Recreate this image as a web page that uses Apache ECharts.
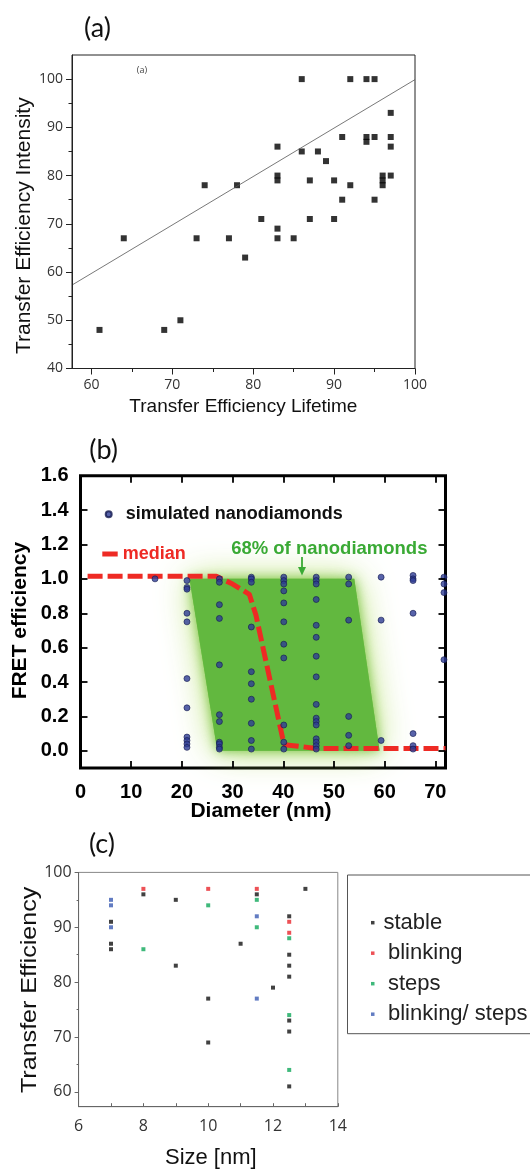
<!DOCTYPE html>
<html><head><meta charset="utf-8">
<script src="https://cdn.jsdelivr.net/npm/echarts@6/dist/echarts.min.js"></script>
<style>html,body{margin:0;padding:0;background:#fff}#c{width:530px;height:1169px}</style>
</head><body><div id="c"></div>
<script>
// ---------- panel (a) ----------
const aLifetime  = [61,64,69,71,73,74,77,78,79,81,83,83,83,83,83,85,86,86,87,87,88,89,90,90,91,91,92,92,94,94,94,95,95,95,96,96,96,97,97,97,97];
const aIntensity = [48,67,48,50,67,78,67,78,63,71,86,80,79,69,67,67,100,85,79,71,85,83,79,71,88,75,100,78,100,88,87,100,88,75,80,79,78,93,88,86,80];
const aFitX = [57.6, 100];
const aFitY = [57.3, 99.9];
const aXTicks = [60,70,80,90,100];
const aXMinor = [65,75,85,95];
const aYTicks = [40,50,60,70,80,90,100];
const aYMinor = [45,55,65,75,85,95];

// ---------- panel (b) ----------
const bDiameters = [14.7,21,27.4,33.7,40.1,46.5,52.9,59.3,65.6,71.7];
const bEfficiencies = [
  [1.0],
  [0.99,0.95,0.94,0.80,0.75,0.42,0.25,0.08,0.06,0.04,0.02],
  [1.0,0.98,0.85,0.77,0.50,0.21,0.17,0.05,0.04,0.02,0.01],
  [1.01,1.0,0.98,0.72,0.46,0.39,0.30,0.16,0.06,0.01],
  [1.01,0.99,0.97,0.93,0.86,0.75,0.62,0.54,0.15,0.05,0.01],
  [1.01,0.99,0.97,0.88,0.73,0.66,0.55,0.43,0.27,0.19,0.17,0.15,0.07,0.05,0.03,0.01],
  [1.01,0.97,0.76,0.20,0.09,0.03],
  [1.01,0.76,0.06],
  [1.02,1.0,0.99,0.80,0.10,0.03,0.01],
  [1.01,0.97,0.92,0.53]
];
const bMedianX = [1.4,26.8,30,33.3,34.6,39.9,40.3,42,46.5,72];
const bMedianY = [1.015,1.015,0.97,0.91,0.79,0.07,0.035,0.03,0.014,0.014];
const bBandX = [21.5,54,59,27];
const bBandY = [1.0,1.0,0.0,0.0];
const bXTicks = [0,10,20,30,40,50,60,70];
const bYTicks = [0,0.2,0.4,0.6,0.8,1.0,1.2,1.4,1.6];

// ---------- panel (c) ----------
const cStableX   = [7,7,7,8,9,9,10,10,11,11.5,12,12.5,12.5,12.5,12.5,12.5,12.5,12.5,13];
const cStableY   = [91,87,86,96,95,83,77,69,87,96,79,92,85,83,81,73,71,61,97];
const cBlinkX    = [8,10,11.5,12.5,12.5];
const cBlinkY    = [97,97,97,91,89];
const cStepsX    = [8,10,11.5,11.5,12.5,12.5,12.5];
const cStepsY    = [86,94,95,90,88,74,64];
const cBothX     = [7,7,7,11.5,11.5];
const cBothY     = [95,94,90,92,77];
const cXTicks = [6,8,10,12,14];
const cXMinor = [6,7,8,9,10,11,12,13,14];
const cYTicks = [60,70,80,90,100];
const cYMinor = [65,75,85,95];

const zip = (xs, ys) => xs.map((x, i) => [x, ys[i]]);
const bPoints = [];
bDiameters.forEach((d, i) => bEfficiencies[i].forEach(v => bPoints.push([d, v])));

const tickFontA = {fontFamily: 'Open Sans', fontSize: 14, color: '#333'};
const tickFontB = {fontFamily: 'Liberation Sans', fontSize: 20, fontWeight: 'bold', color: '#000'};
const tickFontC = {fontFamily: 'Open Sans', fontSize: 16, color: '#333'};

// axis helper: one axis per tick set, ticks placed by the library's own scale
const ax = (o) => Object.assign({type: 'value', z: 20, splitLine: {show: false}}, o);
const tk = (vals, len, color, width, inside) =>
  ({show: true, customValues: vals, inside: !!inside, length: len, lineStyle: {color: color, width: width}});
const noLine = () => ({show: false, onZero: false});

const chart = echarts.init(document.getElementById('c'));
chart.setOption({
  animation: false,
  grid: [
    {left: 72, top: 55, width: 343, height: 313.5, show: true, borderColor: '#222', borderWidth: 1},
    {left: 80.5, top: 475.7, width: 365, height: 292.3, show: true, borderColor: '#000', borderWidth: 3},
    {left: 78.6, top: 872.4, width: 259.2, height: 234.3, show: true, borderColor: '#888', borderWidth: 1}
  ],
  xAxis: [
    // (a) 0,1
    ax({gridIndex: 0, position: 'bottom', min: 57.6, max: 100,
        axisLine: {onZero: false, lineStyle: {color: '#222', width: 1}},
        axisTick: tk(aXTicks, 6, '#222', 1),
        axisLabel: {customValues: aXTicks, margin: 10, ...tickFontA}}),
    ax({gridIndex: 0, position: 'bottom', min: 57.6, max: 100,
        axisLine: noLine(), axisLabel: {show: false},
        axisTick: tk(aXMinor, 3.5, '#222', 1)}),
    // (b) 2,3
    ax({gridIndex: 1, position: 'bottom', min: 0, max: 72,
        axisLine: noLine(),
        axisTick: tk(bXTicks, 7, '#000', 1.8, true),
        axisLabel: {customValues: bXTicks, margin: 14, ...tickFontB}}),
    ax({gridIndex: 1, position: 'top', min: 0, max: 72,
        axisLine: noLine(), axisLabel: {show: false},
        axisTick: tk(bXTicks, 7, '#000', 1.8, true)}),
    // (c) 4
    ax({gridIndex: 2, position: 'bottom', min: 6, max: 14,
        axisLine: {onZero: false, lineStyle: {color: '#666', width: 1}},
        axisTick: tk(cXMinor, 3.5, '#666', 1, true),
        axisLabel: {customValues: cXTicks, margin: 12, ...tickFontC}})
  ],
  yAxis: [
    // (a) 0,1
    ax({gridIndex: 0, position: 'left', min: 40, max: 105,
        axisLine: {onZero: false, lineStyle: {color: '#222', width: 1}},
        axisTick: tk(aYTicks, 6, '#222', 1),
        axisLabel: {customValues: aYTicks, margin: 9, ...tickFontA}}),
    ax({gridIndex: 0, position: 'left', min: 40, max: 105,
        axisLine: noLine(), axisLabel: {show: false},
        axisTick: tk(aYMinor, 3.5, '#222', 1)}),
    // (b) 2,3
    ax({gridIndex: 1, position: 'left', min: -0.1, max: 1.6,
        axisLine: noLine(),
        axisTick: tk(bYTicks, 7, '#000', 1.8, true),
        axisLabel: {customValues: bYTicks, margin: 12, formatter: v => v.toFixed(1), ...tickFontB}}),
    ax({gridIndex: 1, position: 'right', min: -0.1, max: 1.6,
        axisLine: noLine(), axisLabel: {show: false},
        axisTick: tk(bYTicks, 7, '#000', 1.8, true)}),
    // (c) 4,5
    ax({gridIndex: 2, position: 'left', min: 57.3, max: 100,
        axisLine: {onZero: false, lineStyle: {color: '#666', width: 1}},
        axisTick: tk(cYTicks, 4, '#666', 1),
        axisLabel: {customValues: cYTicks, margin: 7, ...tickFontC}}),
    ax({gridIndex: 2, position: 'left', min: 57.3, max: 100,
        axisLine: noLine(), axisLabel: {show: false},
        axisTick: tk(cYMinor, 2, '#666', 1)})
  ],
  legend: [
    {left: 99.7, top: 500.3, itemWidth: 6, itemHeight: 6, selectedMode: false,
     data: [{name: 'simulated nanodiamonds', icon: 'circle'}],
     textStyle: {fontFamily: 'Liberation Sans', fontWeight: 'bold', fontSize: 18, color: '#111', padding: [0,0,0,9]}},
    {left: 97.3, top: 540, itemWidth: 15.4, itemHeight: 5, selectedMode: false,
     data: [{name: 'median', icon: 'rect'}],
     itemStyle: {color: '#ee2a24', borderWidth: 0},
     textStyle: {fontFamily: 'Liberation Sans', fontWeight: 'bold', fontSize: 18, color: '#ee2a24'}},
    {left: 366, top: 906.7, orient: 'vertical', itemWidth: 3.5, itemHeight: 3.5, itemGap: 8.5, selectedMode: false,
     data: [
       {name: 'stable', icon: 'rect', textStyle: {padding: [0,0,0,4]}},
       {name: 'blinking', icon: 'rect', textStyle: {padding: [0,0,0,8.5]}},
       {name: 'steps', icon: 'rect', textStyle: {padding: [0,0,0,8.5]}},
       {name: 'blinking/ steps', icon: 'rect', textStyle: {padding: [0,0,0,8.5]}}
     ],
     textStyle: {fontFamily: 'Liberation Sans', fontSize: 22, lineHeight: 22, color: '#222'}}
  ],
  series: [
    // (a)
    {type: 'line', xAxisIndex: 0, yAxisIndex: 0, data: zip(aFitX, aFitY), symbol: 'none',
     lineStyle: {color: '#555', width: 0.8}, silent: true},
    {type: 'scatter', name: 'a-points', xAxisIndex: 0, yAxisIndex: 0, data: zip(aLifetime, aIntensity),
     symbol: 'rect', symbolSize: 6, itemStyle: {color: '#000'}},
    // (b)
    {type: 'custom', xAxisIndex: 2, yAxisIndex: 2, data: [[bBandX[0], bBandY[0]]], silent: true, z: 1,
     renderItem: (params, api) => {
       const pts = bBandX.map((x, i) => api.coord([x, bBandY[i]]));
       return {type: 'group', children: [
         {type: 'polygon', shape: {points: pts},
          style: {fill: 'rgba(120,195,70,0.9)', shadowBlur: 34, shadowColor: 'rgba(175,218,95,1)'}},
         {type: 'polygon', shape: {points: pts},
          style: {fill: '#62b83f', shadowBlur: 12, shadowColor: 'rgba(120,195,70,1)'}}
       ]};
     }},
    {type: 'line', name: 'median', xAxisIndex: 2, yAxisIndex: 2, data: zip(bMedianX, bMedianY), symbol: 'none',
     color: '#ee2a24', z: 3,
     lineStyle: {color: '#ee2a24', width: 5, type: [15, 5], cap: 'butt'}},
    {type: 'scatter', name: 'simulated nanodiamonds', xAxisIndex: 2, yAxisIndex: 2, data: bPoints,
     symbol: 'circle', symbolSize: 6, z: 4,
     itemStyle: {color: '#2e3c95', borderColor: '#141a50', borderWidth: 0.8}},
    // (c)
    {type: 'scatter', name: 'stable', xAxisIndex: 4, yAxisIndex: 4, data: zip(cStableX, cStableY),
     symbol: 'rect', symbolSize: 4, itemStyle: {color: '#111'}},
    {type: 'scatter', name: 'blinking', xAxisIndex: 4, yAxisIndex: 4, data: zip(cBlinkX, cBlinkY),
     symbol: 'rect', symbolSize: 4, itemStyle: {color: '#e8262c'}},
    {type: 'scatter', name: 'steps', xAxisIndex: 4, yAxisIndex: 4, data: zip(cStepsX, cStepsY),
     symbol: 'rect', symbolSize: 4, itemStyle: {color: '#0fa85a'}},
    {type: 'scatter', name: 'blinking/ steps', xAxisIndex: 4, yAxisIndex: 4, data: zip(cBothX, cBothY),
     symbol: 'rect', symbolSize: 4, itemStyle: {color: '#3b5bb3'}}
  ],
  graphic: [
    {type: 'text', x: 97.5, y: 28, style: {text: '(a)', font: '27px Lato', fill: '#111', align: 'center', verticalAlign: 'middle'}},
    {type: 'text', x: 142, y: 70, style: {text: '(a)', font: '9px "Open Sans"', fill: '#444', align: 'center', verticalAlign: 'middle'}},
    {type: 'text', x: 24.5, y: 225.7, rotation: Math.PI / 2,
     style: {text: 'Transfer Efficiency Intensity', font: '21px "Liberation Sans"', fill: '#111', align: 'center', verticalAlign: 'middle'}},
    {type: 'text', x: 243.4, y: 406.5,
     style: {text: 'Transfer Efficiency Lifetime', font: '19px "Liberation Sans"', fill: '#111', align: 'center', verticalAlign: 'middle'}},
    {type: 'text', x: 103.6, y: 450.7, style: {text: '(b)', font: '27px Lato', fill: '#111', align: 'center', verticalAlign: 'middle'}},
    {type: 'text', x: 20.3, y: 620.6, rotation: Math.PI / 2,
     style: {text: 'FRET efficiency', font: 'bold 21px "Liberation Sans"', fill: '#000', align: 'center', verticalAlign: 'middle'}},
    {type: 'text', x: 261, y: 811,
     style: {text: 'Diameter (nm)', font: 'bold 21px "Liberation Sans"', fill: '#000', align: 'center', verticalAlign: 'middle'}},
    {type: 'text', x: 329.3, y: 548.7, z: 10,
     style: {text: '68% of nanodiamonds', font: 'bold 18.5px "Liberation Sans"', fill: '#3aaa35', align: 'center', verticalAlign: 'middle'}},
    {type: 'line', z: 10, shape: {x1: 302, y1: 557, x2: 302, y2: 570}, style: {stroke: '#3aaa35', lineWidth: 1.8}},
    {type: 'polygon', z: 10, shape: {points: [[298, 567], [306, 567], [302, 575.5]]}, style: {fill: '#3aaa35'}},
    {type: 'text', x: 101.9, y: 844.5, style: {text: '(c)', font: '27px Lato', fill: '#111', align: 'center', verticalAlign: 'middle'}},
    {type: 'text', x: 30.4, y: 989.9, rotation: Math.PI / 2, scaleX: 1.14,
     style: {text: 'Transfer Efficiency', font: '22px "Liberation Sans"', fill: '#111', align: 'center', verticalAlign: 'middle'}},
    {type: 'text', x: 210.8, y: 1158,
     style: {text: 'Size [nm]', font: '22px "Liberation Sans"', fill: '#111', align: 'center', verticalAlign: 'middle'}},
    {type: 'rect', shape: {x: 347.5, y: 875, width: 200, height: 158.7}, style: {fill: 'none', stroke: '#555', lineWidth: 1}}
  ]
});
</script></body></html>
